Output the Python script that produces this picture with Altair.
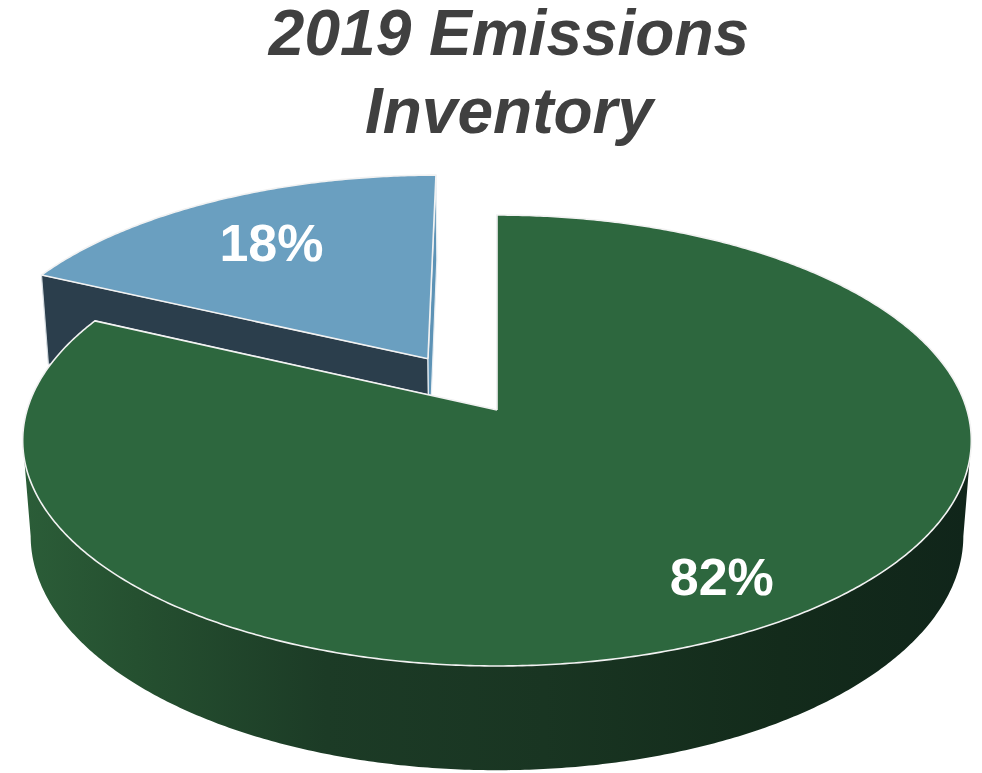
import math
import numpy as np
import pandas as pd
import altair as alt

# ---------------- data ----------------
title_lines = ["2019 Emissions", "Inventory"]
slice_names = ["Slice A", "Slice B"]
shares = [82, 18]
labels = ["82%", "18%"]

# ---------------- style / layout ----------------
top_colors = ["#2d673e", "#6a9fc0"]
start_face_colors = ["#1e4429", "#2b3e4c"]
end_face_colors = ["#245533", "#5d93b6"]
explode = [0.0, 0.283]
label_r = [0.81, 0.715]

CX, CY = 497.0, 410.0      # screen position of pie centre
F = 3064.0                 # focal length
D = 6.52                   # camera distance
S = 0.471                  # sin(elevation)
C = math.sqrt(1 - S * S)
H = 0.232                  # pie thickness

W, HT = 966, 765
PAD_TOP = 150


def proj(X, Y, Z):
    depth = D + Y * C - Z * S
    up = Y * S + Z * C
    return CX + F * X / depth, CY - F * up / depth


def rim(ox, oy, a_deg, z):
    a = math.radians(a_deg)
    return proj(ox + math.sin(a), oy + math.cos(a), z)


rows = []


def add_face(name, pts):
    pts = list(pts) + [pts[0]]
    for i, (x, y) in enumerate(pts):
        rows.append({"face": name, "i": i, "x": x, "y": y})


total = float(sum(shares))
edges = np.concatenate([[0.0], np.cumsum(shares)]) / total * 360.0
label_rows = []
faces_order = []

for k in range(len(shares)):
    a0, a1 = float(edges[k]), float(edges[k + 1])
    mid = math.radians((a0 + a1) / 2)
    ox, oy = explode[k] * math.sin(mid), explode[k] * math.cos(mid)
    grid = np.linspace(a0, a1, int((a1 - a0) * 2) + 2)

    # top face
    top = [proj(ox, oy, 0)] + [rim(ox, oy, a, 0) for a in grid]
    add_face(f"top{k}", top)

    # radial cut faces
    add_face(f"start{k}", [proj(ox, oy, 0), rim(ox, oy, a0, 0),
                           rim(ox, oy, a0, -H), proj(ox, oy, -H)])
    add_face(f"end{k}", [proj(ox, oy, 0), rim(ox, oy, a1, 0),
                         rim(ox, oy, a1, -H), proj(ox, oy, -H)])

    # outer wall: visible between left and right silhouette
    full = np.arange(0, 360.0, 0.25)
    xt = np.array([rim(ox, oy, a, 0)[0] for a in full])
    xb = np.array([rim(ox, oy, a, -H)[0] for a in full])
    tR = full[np.argmax(np.where(full < 180, xt, -1e9))]
    tL = full[np.argmin(np.where(full >= 180, xt, 1e9))]
    bR = full[np.argmax(np.where(full < 180, xb, -1e9))]
    bL = full[np.argmin(np.where(full >= 180, xb, 1e9))]
    lo_t, hi_t = max(a0, tR), min(a1, tL)
    lo_b, hi_b = max(a0, bR), min(a1, bL)
    has_wall = lo_t < hi_t
    if has_wall:
        g_t = np.linspace(lo_t, hi_t, int((hi_t - lo_t) * 2) + 2)
        g_b = np.linspace(hi_b, lo_b, int((hi_b - lo_b) * 2) + 2)
        wall = [rim(ox, oy, a, 0) for a in g_t] + [rim(ox, oy, a, -H) for a in g_b]
        add_face(f"wall{k}", wall)

    lx, ly = proj(ox + label_r[k] * math.sin(mid), oy + label_r[k] * math.cos(mid), 0)
    label_rows.append({"name": slice_names[k], "label": labels[k], "x": lx, "y": ly})
    # farther slices (pushed away from the viewer) are drawn first
    depth_key = oy if explode[k] > 0 else -1.0
    faces_order.append((depth_key, k, has_wall))

poly = pd.DataFrame(rows)
lab = pd.DataFrame(label_rows)

xs = alt.Scale(domain=[8, 8 + W], nice=False, zero=False)
ys = alt.Scale(domain=[8 + PAD_TOP, 8 + HT], nice=False, zero=False, reverse=True)

base = alt.Chart(poly).encode(
    x=alt.X("x:Q", scale=xs, axis=None),
    y=alt.Y("y:Q", scale=ys, axis=None),
    order=alt.Order("i:Q"),
)

wall_gradient = alt.LinearGradient(
    gradient="linear",
    stops=[
        alt.GradientStop(color="#2b5d38", offset=0.0),
        alt.GradientStop(color="#255030", offset=0.12),
        alt.GradientStop(color="#1c3b26", offset=0.32),
        alt.GradientStop(color="#193522", offset=0.55),
        alt.GradientStop(color="#132b1b", offset=0.8),
        alt.GradientStop(color="#10251a", offset=1.0),
    ],
    x1=0, x2=1, y1=0, y2=0,
)

layers = []
for _, k, has_wall in sorted(faces_order, key=lambda t: -t[0]):
    layers.append(base.transform_filter(alt.datum.face == f"start{k}").mark_line(
        fill=start_face_colors[k], stroke="#d4dbe0", strokeWidth=1.2, strokeJoin="round"))
    layers.append(base.transform_filter(alt.datum.face == f"end{k}").mark_line(
        fill=end_face_colors[k], stroke="#e8eef2", strokeWidth=1.2, strokeJoin="round"))
    if has_wall:
        layers.append(base.transform_filter(alt.datum.face == f"wall{k}").mark_line(
            fill=wall_gradient, strokeWidth=0, strokeOpacity=0))
    layers.append(base.transform_filter(alt.datum.face == f"top{k}").mark_line(
        fill=top_colors[k], stroke="#f2f2f2", strokeWidth=1.6, strokeJoin="round"))

text = alt.Chart(lab).mark_text(
    font="Liberation Sans", fontWeight="bold", fontSize=52, color="white",
    align="center", baseline="alphabetic", dy=18,
).encode(
    x=alt.X("x:Q", scale=xs, axis=None),
    y=alt.Y("y:Q", scale=ys, axis=None),
    text="label:N",
)
layers.append(text)

chart = alt.layer(*layers).properties(
    width=W,
    height=HT - PAD_TOP,
    padding={"left": 0, "top": PAD_TOP, "right": 0, "bottom": 0},
    autosize=alt.AutoSizeParams(type="none"),
    background="white",
    title=alt.TitleParams(
        text=title_lines, font="Liberation Sans", fontSize=64, fontWeight="bold",
        fontStyle="italic", color="#404040", lineHeight=78, anchor="middle", dx=18,
        offset=12,
    ),
).configure_view(stroke=None)

chart.save("out.html", embed_options={"renderer": "svg", "actions": False})
